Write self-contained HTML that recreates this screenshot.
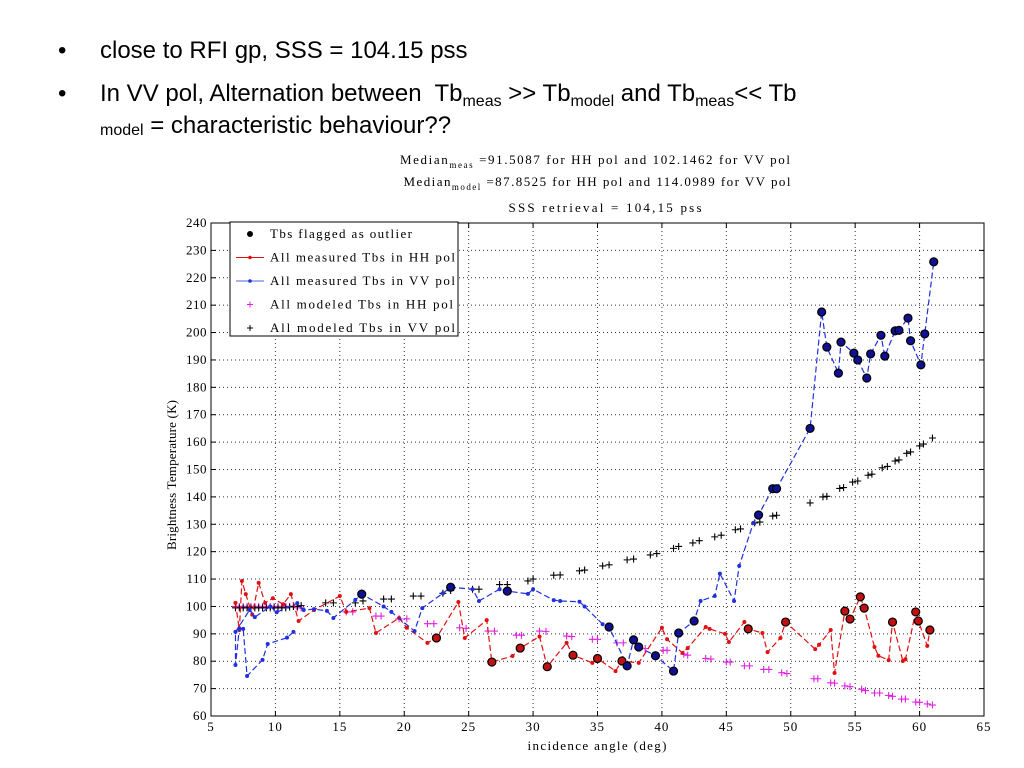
<!DOCTYPE html>
<html><head><meta charset="utf-8">
<style>
body{margin:0;background:#fff;width:1024px;height:768px;overflow:hidden;position:relative;font-family:"Liberation Sans",sans-serif;}
.b{position:absolute;font-size:24px;color:#000;white-space:nowrap}
sub{font-size:16px;vertical-align:-5px}
svg{position:absolute;left:0;top:0}
</style></head><body>
<div class="b" style="left:58px;top:37px">•<span style="position:absolute;left:42px">close to RFI gp, SSS = 104.15 pss</span></div>
<div class="b" style="left:58px;top:80px">•<span style="position:absolute;left:42px">In VV pol, Alternation between&nbsp; Tb<sub>meas</sub> &gt;&gt; Tb<sub>model</sub> and Tb<sub>meas</sub>&lt;&lt; Tb</span></div>
<div class="b" style="left:100px;top:112px"><sub style="vertical-align:-2px">model</sub> = characteristic behaviour??</div>
<svg id="chart" width="1024" height="768" font-family="Liberation Serif, serif"></svg>
<script>
const hhX=[6.9,7.2,7.4,7.7,8.2,8.7,9.2,9.8,10.6,11.2,11.8,13,15,15.5,17.3,17.8,19.6,20.2,21.8,22.5,24.2,24.7,26.4,26.8,28.4,29,30.5,31.1,32.6,33.1,34.6,35,36.4,36.9,38.2,40,40.4,41.6,42,43.4,43.7,44.9,45.2,46.4,46.7,47.8,48.2,49.2,49.6,51.9,52.2,53.1,53.4,54.2,54.6,55.4,55.7,56.5,56.8,57.6,57.9,58.7,58.9,59.7,59.9,60.6,60.8];
const hhY=[101.3,91.4,109.3,104.5,97,108.6,101.3,103,100.8,104.5,94.7,98.7,103.8,98,99.4,90.3,95.8,92.2,86.7,88.5,101.6,88.5,95,79.7,81.9,84.8,89,78,86.7,82.2,79.4,81,76.4,80.1,79.4,92.2,88,83,84.8,92.5,91.8,90,87,94.3,91.8,90.3,83.3,88.5,94.3,84.4,86,91.4,75.7,98.3,95.4,103.5,99.4,85.2,82,80.4,94.3,80.1,80.7,98,94.7,85.6,91.4];
const hhOut=[0,0,0,0,0,0,0,0,0,0,0,0,0,0,0,0,0,0,0,1,0,0,0,1,0,1,0,1,0,1,0,1,0,1,0,0,0,0,0,0,0,0,0,0,1,0,0,0,1,0,0,0,0,1,1,1,1,0,0,0,1,0,0,1,1,0,1];
const vvX=[11.4,10.9,9.4,9,7.8,7.5,7.2,6.9,6.9,8,8.4,9.6,10.1,11.7,12.2,13,14,14.5,16.2,16.7,18.4,19,20.8,21.4,23,23.6,25.3,25.8,27.4,28,29.6,30,31.6,32.1,33.6,34,35.4,35.9,37.3,37.8,38.2,39.5,40.9,41.3,42.5,43,44.1,44.5,45.6,46,47.1,47.5,48.6,48.9,51.5,52.4,52.8,53.7,53.9,54.9,55.2,55.9,56.2,57,57.3,58.1,58.4,59.1,59.3,60.1,60.4,61.1];
const vvY=[90.7,88.6,86.3,80.5,74.6,91.8,92,78.6,90.7,98.7,96.1,100,97.9,101.2,98.7,99,98.4,95.8,102.4,104.5,100,98,91,99.4,104.8,107,106.3,102,106.3,105.6,104.6,106.3,102.3,102,101.7,100,93.5,92.5,78.3,87.8,85.2,82,76.4,90.3,94.7,102,103.8,112,102,114.8,130.5,133.4,143,143,165,207.5,194.7,185.2,196.5,192.5,190,183.4,192.2,199,191.4,200.6,200.8,205.3,197,188.2,199.5,225.8];
const vvOut=[0,0,0,0,0,0,0,0,0,0,0,0,0,0,0,0,0,0,0,1,0,0,0,0,0,1,0,0,0,1,0,0,0,0,0,0,0,1,1,1,1,1,1,1,1,0,0,0,0,0,0,1,1,1,1,1,1,1,1,1,1,1,1,1,1,1,1,1,1,1,1,1];
const mhX=[6.9,7.2,7.5,7.8,8.1,8.4,8.7,9,9.3,9.6,9.9,10.2,10.5,10.8,11.1,11.4,11.7,12,15.5,16,17.8,18.2,19.6,20.2,21.8,22.3,24.3,24.8,26.5,27,28.7,29.1,30.5,31,32.6,33,34.6,35,36.5,37,38.2,38.7,40.1,40.4,41.7,42,43.4,43.8,45,45.3,46.4,46.8,47.9,48.3,49.3,49.7,51.8,52.1,53.1,53.4,54.2,54.6,55.5,55.8,56.5,56.9,57.6,57.9,58.6,58.9,59.7,60,60.6,61];
const mhY=[100,100,100,100,100,100,100,100,100,100,100,100,100,100,100,100,99.5,99.5,98,98,96.5,96.5,95.5,95.5,93.7,93.7,92.2,92,91,91,89.5,89.5,91,90.9,89.2,89,88,88,86.7,86.7,85.2,84.6,84,84,82.6,82.2,81,80.8,79.7,79.7,78.3,78.3,77,77,75.8,75.5,73.6,73.6,72.1,72,71,70.7,69.8,69.3,68.4,68.4,67.5,67.2,66.2,66.2,65.1,65,64.4,64];
const mvX=[6.9,7.2,7.5,7.8,8.1,8.4,8.7,9,9.3,9.6,9.9,10.2,10.5,10.8,11.1,11.4,11.7,12,13.9,14.5,16.2,16.8,18.4,19,20.7,21.3,23,23.6,25.3,25.8,27.4,28,29.6,30,31.6,32.1,33.6,34,35.4,35.9,37.3,37.8,39.1,39.6,40.9,41.3,42.4,42.9,44.1,44.6,45.7,46.1,47.2,47.6,48.6,48.9,51.5,52.5,52.8,53.8,54.1,54.8,55.2,56,56.3,57.1,57.5,58.1,58.4,59,59.3,60,60.3,61];
const mvY=[99.5,99.5,99.5,99.5,99.5,99.5,99.5,99.5,99.5,99.5,99.5,99.5,99.5,99.5,99.8,100,100,100.3,101.3,101.3,101.3,102,102.7,102.7,103.8,103.8,104.8,105.8,106.3,106.3,108,108,109.3,110,111.4,111.5,113,113.3,114.8,115.2,117,117.3,118.8,119.3,121.2,121.9,123.2,124,125.4,126,128,128.3,130.5,130.8,133,133.3,137.8,140,140.2,143.1,143.4,145.4,145.8,147.9,148.3,150.6,151.1,153.1,153.5,155.9,156.4,158.6,159.3,161.5];
const xTicks=[5,10,15,20,25,30,35,40,45,50,55,60,65];
const yTicks=[60,70,80,90,100,110,120,130,140,150,160,170,180,190,200,210,220,230,240];

const L=211,R=984,T=223,B=716;
const sx=v=>L+(v-5)*(R-L)/60, sy=v=>B-(v-60)*(B-T)/180;
const svg=document.getElementById('chart');const NS='http://www.w3.org/2000/svg';
function mk(t,a,p){const e=document.createElementNS(NS,t);for(const k in a)e.setAttribute(k,a[k]);(p||svg).appendChild(e);return e;}
mk('rect',{x:L,y:T,width:R-L,height:B-T,fill:'#fff',stroke:'none'});
xTicks.forEach(v=>{const x=sx(v);
 if(v>5&&v<65){const g=mk('line',{x1:x,x2:x,y1:T,y2:B,stroke:'#333','stroke-dasharray':'1,3','stroke-width':1});
 }
 mk('line',{x1:x,x2:x,y1:B,y2:B-5,stroke:'#000'});mk('line',{x1:x,x2:x,y1:T,y2:T+5,stroke:'#000'});
 const t=mk('text',{x:x,y:B+15,'text-anchor':'middle','font-size':13,'letter-spacing':1});t.textContent=v;
 });
yTicks.forEach(v=>{const y=sy(v);
 if(v>60&&v<240){const g=mk('line',{x1:L,x2:R,y1:y,y2:y,stroke:'#333','stroke-dasharray':'1,3','stroke-width':1});
 }
 mk('line',{x1:L,x2:L+5,y1:y,y2:y,stroke:'#000'});mk('line',{x1:R,x2:R-5,y1:y,y2:y,stroke:'#000'});
 const t=mk('text',{x:L-4,y:y+4,'text-anchor':'end','font-size':13,'letter-spacing':0.5});t.textContent=v;
 });
mk('rect',{x:L,y:T,width:R-L,height:B-T,fill:'none',stroke:'#000'});
function series(X,Y,col,name){const p=mk('polyline',{points:X.map((x,i)=>sx(x)+','+sy(Y[i])).join(' '),fill:'none',stroke:col,'stroke-width':1.2,'stroke-dasharray':'6,3'});
 
 X.forEach((x,i)=>{const c=mk('circle',{cx:sx(x),cy:sy(Y[i]),r:2,fill:col});
 });}
function pluses(X,Y,col,name){X.forEach((x,i)=>{const px=sx(x),py=sy(Y[i]);
 const p=mk('path',{d:`M${px-3.5},${py}h7M${px},${py-3.5}v7`,stroke:col,'stroke-width':1.1});
 });}
function outl(X,Y,F,fill,name){X.forEach((x,i)=>{if(!F[i])return;const c=mk('circle',{cx:sx(x),cy:sy(Y[i]),r:4,fill:fill,stroke:'#000','stroke-width':1.2});
 });}
pluses(mhX,mhY,'#e020e0','hh-model-marker');
pluses(mvX,mvY,'#000','vv-model-marker');
series(hhX,hhY,'#e01010','hh-measured-line');
series(vvX,vvY,'#2030e0','vv-measured-line');
outl(hhX,hhY,hhOut,'#c01010','hh-outlier');
outl(vvX,vvY,vvOut,'#101090','vv-outlier');
// legend
const lg=mk('g',{});
mk('rect',{x:230,y:222,width:228,height:114,fill:'#fff',stroke:'#000'},lg);
const labs=['Tbs flagged as outlier','All measured Tbs in HH pol','All measured Tbs in VV pol','All modeled Tbs in HH pol','All modeled Tbs in VV pol'];
const labEnd=[412,455,455,453,455];
labs.forEach((s,i)=>{const y=236+i*23.5;
 if(i==0)mk('circle',{cx:250,cy:y-2,r:3,fill:'#000'},lg);
 if(i==1||i==2){mk('line',{x1:236,x2:264,y1:y-2,y2:y-2,stroke:i==1?'#e01010':'#5060e0'},lg);mk('circle',{cx:250,cy:y-2,r:1.8,fill:i==1?'#e01010':'#2030e0'},lg);}
 if(i>=3)mk('path',{d:`M247,${y-2}h6M250,${y-5}v6`,stroke:i==3?'#e020e0':'#000'},lg);
 const t=mk('text',{x:270,y:y+2,'font-size':13,textLength:labEnd[i]-270,lengthAdjust:'spacing'},lg);t.textContent=s;
 });
// titles
function tt(x,y,html,name,len,rot){const t=mk('text',{x:x,y:y,'font-size':13,'text-anchor':'middle',textLength:len,lengthAdjust:'spacing'});t.innerHTML=html;if(rot)t.setAttribute('transform',`rotate(-90 ${x} ${y})`);return t;}
tt(595,164,'Median<tspan font-size="9" dy="4">meas</tspan><tspan dy="-4"> =91.5087 for HH pol and 102.1462 for VV pol</tspan>','title-line-1',390);
tt(597,186,'Median<tspan font-size="9" dy="4">model</tspan><tspan dy="-4"> =87.8525 for HH pol and 114.0989 for VV pol</tspan>','title-line-2',387);
tt(605,212,'SSS retrieval = 104,15 pss','title-line-3',193);
tt(597,750,'incidence angle (deg)','x-axis-title',139);
tt(176,475,'Brightness Temperature (K)','y-axis-title',150,true);
</script>
</body></html>
